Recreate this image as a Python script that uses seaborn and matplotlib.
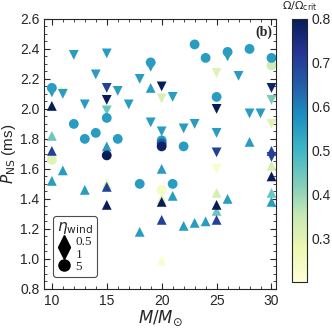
import pandas as pd
import matplotlib.pyplot as plt
import seaborn as sns
from matplotlib.colors import Normalize
from matplotlib.cm import ScalarMappable
from matplotlib.lines import Line2D
from matplotlib.ticker import MultipleLocator

# --- data ---
# eta_wind = 5 (circles)
m_5 = [10, 12, 13, 14, 15, 15, 16, 10, 18, 19, 20, 20, 20, 20, 21, 22, 23, 24, 25, 26, 28, 30, 30]
p_5 = [2.14, 1.90, 1.80, 1.84, 1.94, 1.69, 1.80, 1.66, 1.50, 2.31, 1.79, 1.77, 1.75, 1.46, 1.50, 1.75,
       2.43, 2.34, 2.08, 2.38, 2.40, 2.34, 2.29]
w_5 = [0.55, 0.55, 0.55, 0.55, 0.55, 0.80, 0.55, 0.30, 0.55, 0.55, 0.55, 0.65, 0.78, 0.24, 0.55, 0.55,
       0.55, 0.55, 0.55, 0.55, 0.55, 0.55, 0.33]

# eta_wind = 1 (down triangles)
m_1 = [11, 11, 12, 13, 14, 15, 15, 15, 15, 16, 17, 18, 19, 20, 20, 20, 21, 22, 23, 25, 25, 25, 25, 25,
       27, 28, 29, 30, 30, 30, 30, 10, 26, 19]
p_1 = [2.11, 2.10, 2.36, 2.03, 2.23, 2.37, 2.14, 2.06, 1.99, 2.12, 2.03, 2.20, 1.91, 2.15, 2.07, 1.85,
       2.08, 1.87, 1.90, 2.24, 2.00, 1.84, 1.71, 1.60, 2.22, 1.97, 1.97, 2.14, 2.06, 1.90, 1.68,
       2.11, 2.35, 2.28]
w_1 = [0.28, 0.55, 0.55, 0.55, 0.55, 0.55, 0.70, 0.80, 0.45, 0.55, 0.55, 0.55, 0.55, 0.80, 0.32, 0.55,
       0.55, 0.55, 0.55, 0.30, 0.80, 0.55, 0.70, 0.23, 0.55, 0.55, 0.55, 0.78, 0.43, 0.30, 0.70,
       0.55, 0.55, 0.55]

# eta_wind = 0.5 (up triangles)
m_05 = [10, 10, 10, 10, 11, 13, 15, 15, 15, 15, 18, 19, 20, 20, 20, 20, 20, 21, 22, 23, 24, 25, 25, 25,
        25, 26, 28, 30, 30, 30, 30, 30]
p_05 = [2.02, 1.82, 1.72, 1.52, 1.59, 1.46, 1.75, 1.50, 1.48, 1.36, 1.18, 2.14, 1.60, 1.40, 1.38, 1.26,
        0.99, 1.42, 1.22, 1.24, 1.25, 1.44, 1.32, 1.36, 1.26, 1.40, 1.78, 1.72, 1.62, 1.55, 1.44, 1.38]
w_05 = [0.80, 0.45, 0.70, 0.55, 0.55, 0.55, 0.55, 0.30, 0.70, 0.80, 0.55, 0.55, 0.55, 0.30, 0.80, 0.70,
        0.22, 0.55, 0.55, 0.55, 0.55, 0.32, 0.45, 0.80, 0.70, 0.55, 0.55, 0.70, 0.32, 0.80, 0.45, 0.55]

df = pd.DataFrame({
    "mass": m_5 + m_1 + m_05,
    "period": p_5 + p_1 + p_05,
    "eta": ["5"] * len(m_5) + ["1"] * len(m_1) + ["0.5"] * len(m_05),
    "omega": w_5 + w_1 + w_05,
})
df = df.sort_values("omega", kind="stable")  # darker points on top

sns.set_style("ticks")
plt.rcParams["font.family"] = ["Liberation Sans", "DejaVu Sans"]
plt.rcParams["mathtext.fontset"] = "dejavusans"

fig = plt.figure(figsize=(3.32, 3.32), dpi=100)
ax = fig.add_axes([0.133, 0.13, 0.698, 0.813])
cax = fig.add_axes([0.88, 0.15, 0.045, 0.793])

cmap = "YlGnBu"
norm = Normalize(vmin=0.2, vmax=0.8)
markers = {"0.5": "^", "1": "v", "5": "o"}

sns.scatterplot(data=df, x="mass", y="period", hue="omega", style="eta", markers=markers,
                palette=cmap, hue_norm=norm, s=50, linewidth=0, legend=False, ax=ax)

ax.set_xlim(9.3, 30.4)
ax.set_ylim(0.8, 2.6)
ax.xaxis.set_major_locator(MultipleLocator(5))
ax.xaxis.set_minor_locator(MultipleLocator(1))
ax.yaxis.set_major_locator(MultipleLocator(0.2))
ax.yaxis.set_minor_locator(MultipleLocator(0.05))
ax.tick_params(which="both", direction="in", top=True, right=True, labelsize=10)
ax.tick_params(which="major", length=4)
ax.tick_params(which="minor", length=2)
ax.set_xlabel(r"$M/M_{\odot}$", fontsize=12, labelpad=1)
ax.set_ylabel(r"$P_{\rm NS}$ (ms)", fontsize=11, labelpad=1)
ax.text(0.985, 0.975, "(b)", transform=ax.transAxes, ha="right", va="top",
        fontsize=10, fontweight="bold", family="Liberation Serif")

# legend for eta_wind
handles = [Line2D([], [], marker=markers[k], color="black", linestyle="", markersize=8)
           for k in ["0.5", "1", "5"]]
leg = ax.legend(handles, ["0.5", "1", "5"], title=r"$\eta_{\rm wind}$", loc="lower left",
                bbox_to_anchor=(0.01, 0.02), fontsize=9.5, title_fontsize=11,
                handlelength=0.9, handletextpad=0.4, labelspacing=0.0, borderpad=0.3,
                frameon=True, fancybox=True, edgecolor="0.3", framealpha=1)
for t in leg.get_texts():
    t.set_family("Liberation Serif")
leg.get_frame().set_linewidth(0.8)

# colorbar
cb = fig.colorbar(ScalarMappable(norm=norm, cmap=cmap), cax=cax)
cb.set_ticks([0.3, 0.4, 0.5, 0.6, 0.7, 0.8])
cb.ax.yaxis.set_minor_locator(MultipleLocator(0.05))
cb.ax.tick_params(which="both", direction="in", labelsize=10)
cb.ax.tick_params(which="minor", length=2)
cb.outline.set_linewidth(0.8)
cax.set_title(r"$\Omega/\Omega_{\rm crit}$", fontsize=8, pad=7)

plt.savefig("out.png", dpi=100)
